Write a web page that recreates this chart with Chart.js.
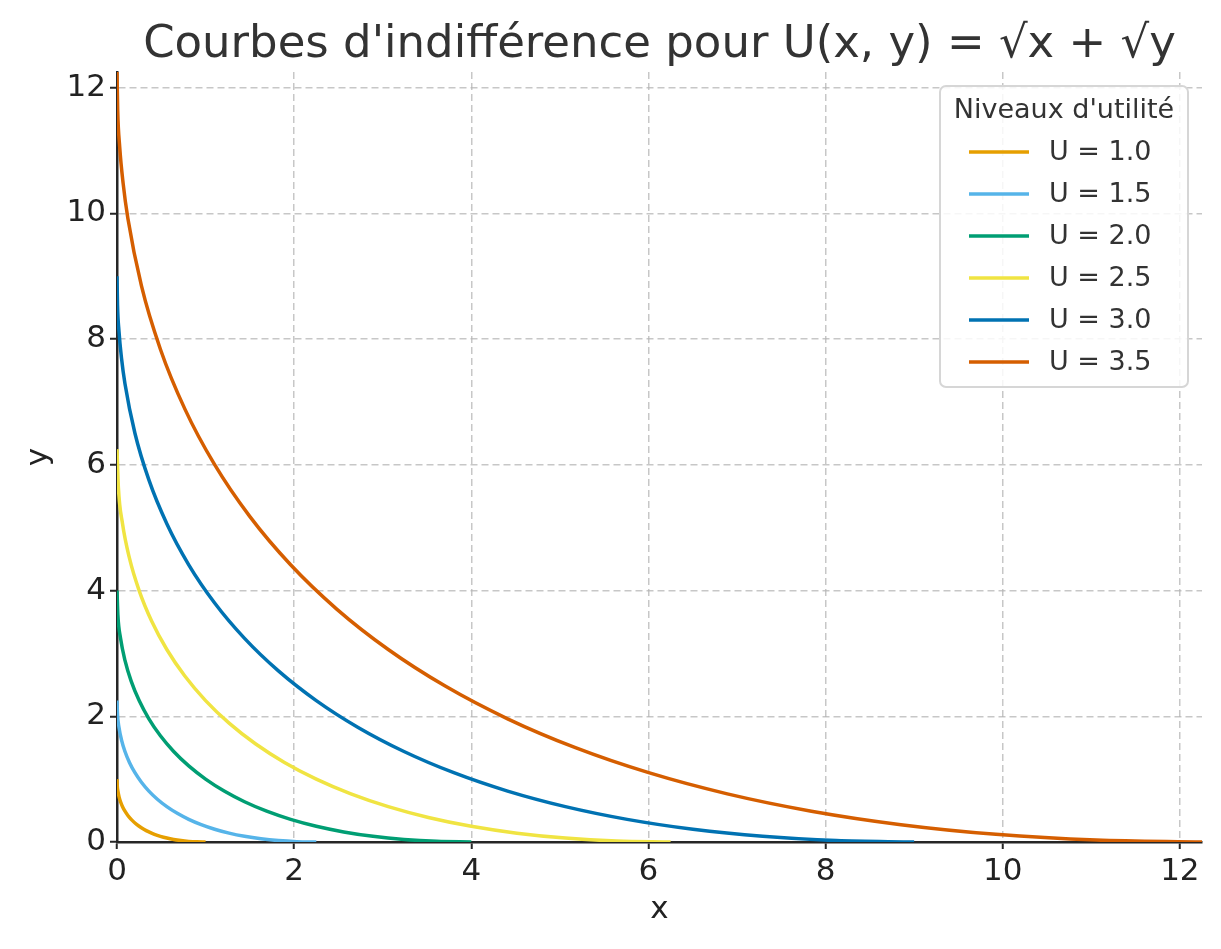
<!DOCTYPE html>
<html>
<head>
<meta charset="utf-8">
<script src="https://cdn.jsdelivr.net/npm/chart.js@4.4.1/dist/chart.umd.min.js"></script>
<style>
  html, body { margin: 0; padding: 0; background: #fff; }
  #wrap { width: 1221px; height: 949px; }
</style>
</head>
<body>
<div id="wrap"><canvas id="chart"></canvas></div>
<script>
// Utility levels and the points
const levels = ["U = 1.0", "U = 1.5", "U = 2.0", "U = 2.5", "U = 3.0", "U = 3.5"];
const colors = ["#E69F00", "#56B4E9", "#009E73", "#F0E442", "#0072B2", "#D55E00"];

const x10 = [0, 0.0025, 0.01, 0.0225, 0.04, 0.0625, 0.09, 0.1225, 0.16, 0.2025, 0.25,
             0.3025, 0.36, 0.4225, 0.49, 0.5625, 0.64, 0.7225, 0.81, 0.9025, 1.0];
const y10 = [1.0, 0.9025, 0.81, 0.7225, 0.64, 0.5625, 0.49, 0.4225, 0.36, 0.3025, 0.25,
             0.2025, 0.16, 0.1225, 0.09, 0.0625, 0.04, 0.0225, 0.01, 0.0025, 0];

const x15 = [0, 0.0056, 0.0225, 0.0506, 0.09, 0.1406, 0.2025, 0.2756, 0.36, 0.4556, 0.5625,
             0.6806, 0.81, 0.9506, 1.1025, 1.2656, 1.44, 1.6256, 1.8225, 2.0306, 2.25];
const y15 = [2.25, 2.0306, 1.8225, 1.6256, 1.44, 1.2656, 1.1025, 0.9506, 0.81, 0.6806, 0.5625,
             0.4556, 0.36, 0.2756, 0.2025, 0.1406, 0.09, 0.0506, 0.0225, 0.0056, 0];

const x20 = [0, 0.01, 0.04, 0.09, 0.16, 0.25, 0.36, 0.49, 0.64, 0.81, 1.0,
             1.21, 1.44, 1.69, 1.96, 2.25, 2.56, 2.89, 3.24, 3.61, 4.0];
const y20 = [4.0, 3.61, 3.24, 2.89, 2.56, 2.25, 1.96, 1.69, 1.44, 1.21, 1.0,
             0.81, 0.64, 0.49, 0.36, 0.25, 0.16, 0.09, 0.04, 0.01, 0];

const x25 = [0, 0.0156, 0.0625, 0.1406, 0.25, 0.3906, 0.5625, 0.7656, 1.0, 1.2656, 1.5625,
             1.8906, 2.25, 2.6406, 3.0625, 3.5156, 4.0, 4.5156, 5.0625, 5.6406, 6.25];
const y25 = [6.25, 5.6406, 5.0625, 4.5156, 4.0, 3.5156, 3.0625, 2.6406, 2.25, 1.8906, 1.5625,
             1.2656, 1.0, 0.7656, 0.5625, 0.3906, 0.25, 0.1406, 0.0625, 0.0156, 0];

const x30 = [0, 0.0056, 0.0225, 0.0506, 0.09, 0.2025, 0.36, 0.5625, 0.81, 1.1025, 1.44, 1.8225, 2.25,
             2.7225, 3.24, 3.8025, 4.41, 5.0625, 5.76, 6.5025, 7.29, 8.1225, 9.0];
const y30 = [9.0, 8.5556, 8.1225, 7.7006, 7.29, 6.5025, 5.76, 5.0625, 4.41, 3.8025, 3.24, 2.7225, 2.25,
             1.8225, 1.44, 1.1025, 0.81, 0.5625, 0.36, 0.2025, 0.09, 0.0225, 0];

const x35 = [0, 0.0077, 0.0306, 0.0689, 0.1225, 0.2756, 0.49, 0.7656, 1.1025, 1.5006, 1.96, 2.4806, 3.0625,
             3.7056, 4.41, 5.1756, 6.0025, 6.8906, 7.84, 8.8506, 9.9225, 11.0556, 12.25];
const y35 = [12.25, 11.6452, 11.0556, 10.4814, 9.9225, 8.8506, 7.84, 6.8906, 6.0025, 5.1756, 4.41, 3.7056, 3.0625,
             2.4806, 1.96, 1.5006, 1.1025, 0.7656, 0.49, 0.2756, 0.1225, 0.0306, 0];

const curvesX = [x10, x15, x20, x25, x30, x35];
const curvesY = [y10, y15, y20, y25, y30, y35];

const xTicks = [0, 2, 4, 6, 8, 10, 12];
const yTicks = [0, 2, 4, 6, 8, 10, 12];

const chartTitle = "Courbes d'indifférence pour U(x, y) = √x + √y";
const legendTitle = "Niveaux d'utilité";

const FONT = "'DejaVu Sans', sans-serif";

const datasets = levels.map((label, i) => ({
  label: label,
  data: curvesX[i].map((x, j) => ({ x: x, y: curvesY[i][j] })),
  borderColor: colors[i],
  backgroundColor: colors[i],
  borderWidth: 3.5,
  pointRadius: 0,
  fill: false,
  cubicInterpolationMode: "monotone",
}));

// Title centred over the plot area, like matplotlib
const titlePlugin = {
  id: "plotTitle",
  afterDraw(chart) {
    const { ctx, chartArea } = chart;
    ctx.save();
    ctx.font = "45px " + FONT;
    ctx.fillStyle = "#333333";
    ctx.textAlign = "center";
    ctx.textBaseline = "alphabetic";
    ctx.fillText(chartTitle, (chartArea.left + chartArea.right) / 2, 57);
    ctx.restore();
  },
};

// Legend box inside the top right corner of the plot
const boxLegend = {
  id: "boxLegend",
  afterDraw(chart) {
    const { ctx, chartArea } = chart;
    const w = 248, h = 301;
    const left = chartArea.right - 14 - w;
    const top = chartArea.top + 14;
    ctx.save();
    ctx.beginPath();
    ctx.roundRect(left, top, w, h, 6);
    ctx.fillStyle = "rgba(255,255,255,0.85)";
    ctx.fill();
    ctx.lineWidth = 2;
    ctx.strokeStyle = "#d6d6d6";
    ctx.stroke();

    ctx.font = "27px " + FONT;
    ctx.fillStyle = "#333333";
    ctx.textBaseline = "middle";
    ctx.textAlign = "center";
    ctx.fillText(legendTitle, left + w / 2, top + 25);

    ctx.textAlign = "left";
    chart.data.datasets.forEach((ds, i) => {
      const yy = top + 66 + i * 42;
      ctx.beginPath();
      ctx.moveTo(left + 29, yy);
      ctx.lineTo(left + 89, yy);
      ctx.lineWidth = 3.5;
      ctx.strokeStyle = ds.borderColor;
      ctx.stroke();
      ctx.fillText(ds.label, left + 109, yy + 1);
    });
    ctx.restore();
  },
};

const axisCommon = (ticks, title) => ({
  type: "linear",
  min: 0,
  max: 12.25,
  afterBuildTicks: (scale) => {
    scale.ticks = ticks.map((v) => ({ value: v }));
  },
  ticks: {
    font: { family: FONT, size: 31 },
    color: "#222222",
    padding: 4,
    maxRotation: 0,
    autoSkip: false,
  },
  grid: {
    color: "rgba(180,180,180,0.75)",
    lineWidth: 1.5,
    drawTicks: true,
    tickLength: 7,
    tickColor: "#262626",
    tickWidth: 2,
  },
  border: {
    display: true,
    color: "#262626",
    width: 2.5,
    dash: [7, 4],
  },
  title: {
    display: true,
    text: title,
    font: { family: FONT, size: 31 },
    color: "#222222",
  },
});

const xAxis = axisCommon(xTicks, "x");
xAxis.afterFit = (scale) => { scale.height = 107; };
xAxis.title.padding = { top: 0, bottom: 20 };

const yAxis = axisCommon(yTicks, "y");
yAxis.afterFit = (scale) => { scale.width = 117; };
yAxis.title.padding = { top: 20, bottom: 0 };

new Chart(document.getElementById("chart"), {
  type: "line",
  data: { datasets: datasets },
  options: {
    responsive: true,
    maintainAspectRatio: false,
    animation: false,
    layout: { padding: { top: 72, right: 19, left: 0, bottom: 0 } },
    plugins: {
      legend: { display: false },
      tooltip: { enabled: false },
      title: { display: false },
    },
    scales: { x: xAxis, y: yAxis },
  },
  plugins: [titlePlugin, boxLegend],
});
</script>
</body>
</html>
